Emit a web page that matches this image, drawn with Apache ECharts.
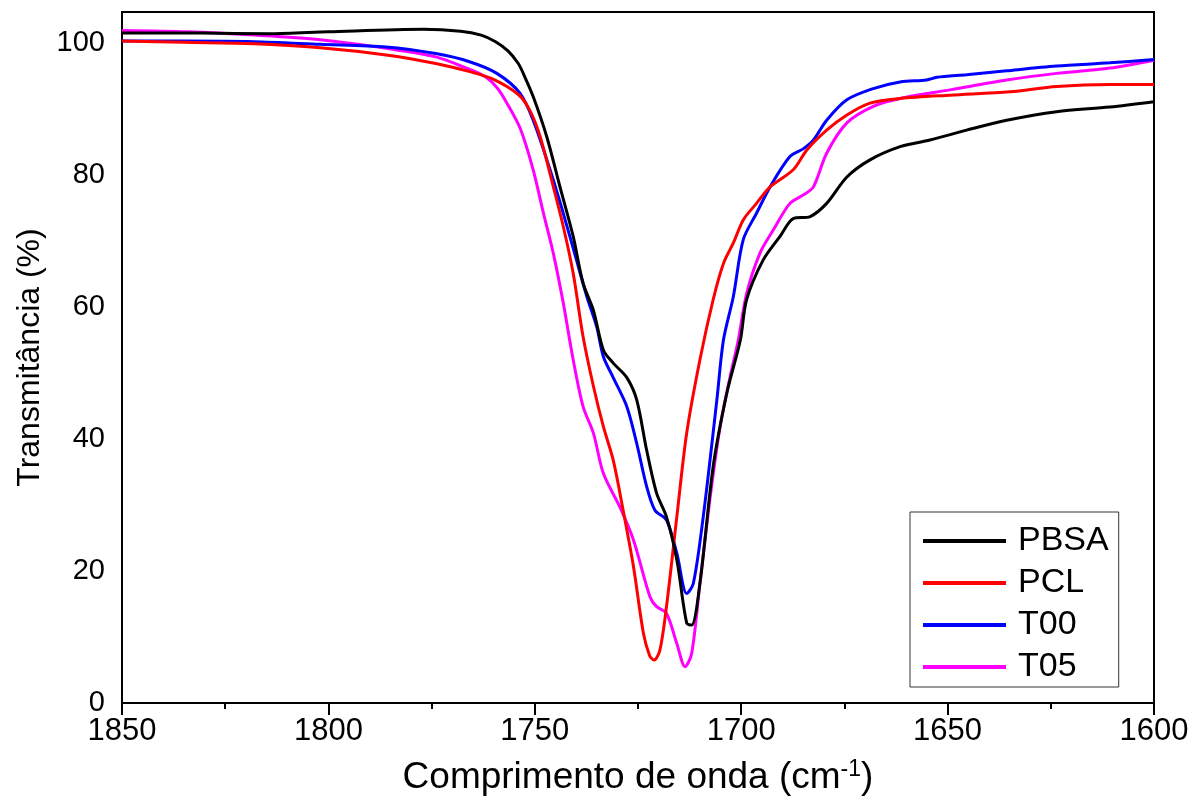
<!DOCTYPE html>
<html>
<head>
<meta charset="utf-8">
<script src="https://cdn.jsdelivr.net/npm/echarts@6/dist/echarts.min.js"></script>
<style>html,body{margin:0;padding:0;background:#fff}#c{width:1204px;height:804px}</style>
</head>
<body>
<div id="c"></div>
<script>
const seriesNames = ['PBSA', 'PCL', 'T00', 'T05'];
const seriesColors = ['#000000', '#ff0000', '#0000ff', '#ff00ff'];
const xTicks = [1600, 1650, 1700, 1750, 1800, 1850];
const yTicks = [0, 20, 40, 60, 80, 100];

const pbsaX = [1850,1831,1814,1800,1777,1768,1763,1759.5,1756.5,1754,1752.8,1750.4,1747.1,1743.9,1740.7,1738.3,1735.8,1733.4,1731.0,1727.7,1725.3,1722.9,1720.5,1718.1,1715.6,1713.2,1712.0,1710.0,1706.8,1703.5,1700.2,1698.7,1694.7,1690.6,1687.4,1683.3,1679.3,1674.4,1668.8,1661.5,1654.3,1645.4,1635.7,1623.6,1610.7,1600];
const pbsaY = [101.5,101.5,101.4,101.7,102.1,101.8,101.2,100.2,98.8,96.9,95.4,91.9,85.8,78.2,70.7,63.6,59.5,53.5,51.5,49.3,45.9,38.3,31.8,28.2,21.7,12.1,11.8,18.1,35.8,46.9,55.0,61.1,67.1,70.7,73.4,73.7,75.7,79.7,82.3,84.3,85.3,86.8,88.3,89.6,90.3,91.1];

const pclX = [1850,1835,1818,1802,1786,1774,1766,1760,1754,1751.2,1748.7,1745.5,1743.1,1740.7,1738.3,1735.8,1733.4,1731.0,1728.6,1726.1,1723.7,1722.2,1721.1,1719.7,1718.1,1715.6,1713.2,1710.0,1706.8,1704.3,1701.9,1699.5,1696.3,1693.0,1687.4,1684.1,1679.3,1674.4,1668.8,1661.5,1649.4,1634.9,1623.6,1610.7,1600];
const pclY = [100.3,100.1,99.9,99.3,98.2,96.9,95.7,94.5,92.2,89.8,85.8,78.2,72.2,65.1,55.5,48.0,41.9,36.8,29.2,20.7,10.6,7.2,6.5,8.0,14.6,28.2,40.9,52.0,61.1,66.6,69.7,73.2,75.7,78.2,80.8,83.8,86.8,89.1,90.9,91.6,92.1,92.6,93.4,93.7,93.7];

const t00X = [1850,1835,1818,1802,1786,1774,1766,1759.2,1753.6,1750.4,1746.3,1743.1,1739.9,1737.4,1735.0,1733.4,1731.0,1727.7,1725.3,1722.9,1720.9,1718.1,1715.6,1713.2,1711.6,1709.2,1705.9,1704.3,1701.9,1699.5,1696.3,1693.0,1688.2,1684.9,1682.5,1679.3,1674.4,1668.0,1661.5,1655.1,1652.6,1645.4,1635.7,1623.6,1610.7,1600];
const t00Y = [100.3,100.3,100.2,99.8,99.4,98.4,97.2,95.4,92.4,88.3,80.8,74.2,67.1,61.6,57.0,52.5,49.3,44.9,39.3,32.8,29.2,27.7,22.7,16.6,18.1,28.2,45.9,55.0,61.6,70.2,74.2,78.2,82.8,84.0,85.3,88.3,91.4,93.1,94.1,94.4,94.8,95.2,95.8,96.5,97.0,97.5];

const t05X = [1850,1834,1818,1802,1786,1774,1767,1762,1759,1756.5,1753.5,1750.4,1747.9,1745.5,1743.1,1740.7,1738.3,1735.8,1733.4,1729.4,1726.1,1722.1,1720.5,1718.1,1715.6,1713.6,1712.0,1710.0,1707.6,1705.1,1702.7,1700.7,1698.7,1695.5,1692.2,1688.2,1684.9,1682.5,1679.3,1674.4,1668.0,1661.5,1649.4,1635.7,1623.6,1610.7,1600];
const t05Y = [101.9,101.7,101.2,100.5,99.2,97.9,96.3,94.9,93.1,90.6,87.0,80.8,74.2,68.1,60.6,52.0,44.9,40.9,34.8,29.7,24.7,16.1,14.6,13.6,9.0,5.5,7.5,18.1,30.8,41.9,49.4,55.0,62.0,68.1,71.7,75.7,77.0,78.2,83.3,87.9,90.4,91.6,92.9,94.4,95.4,96.2,97.4];

const allX = [pbsaX, pclX, t00X, t05X];
const allY = [pbsaY, pclY, t00Y, t05Y];

const FONT = '"Liberation Sans", Arial, sans-serif';
const chart = echarts.init(document.getElementById('c'), null, {renderer: 'canvas'});

const series = seriesNames.map((name, i) => ({
  name: name,
  type: 'line',
  data: allX[i].map((x, k) => [x, allY[i][k]]),
  symbol: 'none',
  smooth: 0.3,
  lineStyle: {color: seriesColors[i], width: 3},
  itemStyle: {color: seriesColors[i]},
  z: 10 - i
}));

chart.setOption({
  animation: false,
  backgroundColor: '#ffffff',
  grid: {left: 122, right: 50, top: 12, bottom: 101, show: true, borderColor: '#000', borderWidth: 2, backgroundColor: 'transparent'},
  legend: {
    orient: 'vertical',
    left: 910, top: 512,
    icon: 'rect',
    itemWidth: 83, itemHeight: 4,
    itemGap: 8,
    padding: [12, 10, 3, 13],
    borderColor: '#333', borderWidth: 1,
    backgroundColor: '#fff',
    data: seriesNames,
    textStyle: {fontFamily: FONT, fontSize: 34, color: '#000', lineHeight: 34, padding: [0, 0, 0, 7]}
  },
  xAxis: {
    type: 'value',
    inverse: true,
    min: 1600, max: 1850, interval: 50,
    name: '{a|Comprimento de onda (cm}{s|-1}{a|)}',
    nameLocation: 'middle',
    nameGap: 55,
    nameTextStyle: {
      rich: {
        a: {fontFamily: FONT, fontSize: 37, color: '#000', lineHeight: 40},
        s: {fontFamily: FONT, fontSize: 23, color: '#000', verticalAlign: 'top', lineHeight: 40, padding: [0, 0, 14, 0]}
      }
    },
    axisLine: {show: true, onZero: false, lineStyle: {color: '#000', width: 2}},
    axisTick: {show: true, inside: false, length: 12, lineStyle: {color: '#000', width: 2}},
    minorTick: {show: true, splitNumber: 2, length: 6, lineStyle: {color: '#000', width: 2}},
    splitLine: {show: false},
    axisLabel: {fontFamily: FONT, fontSize: 31, color: '#000', margin: 13,
      formatter: v => xTicks.includes(v) ? String(v) : ''}
  },
  yAxis: {
    type: 'value',
    min: 0, max: 104.7, interval: 20,
    name: 'Transmitância (%)',
    nameLocation: 'middle',
    nameGap: 74,
    nameRotate: 90,
    nameTextStyle: {fontFamily: FONT, fontSize: 32, color: '#000'},
    axisLine: {show: true, onZero: false, lineStyle: {color: '#000', width: 2}},
    axisTick: {show: false},
    splitLine: {show: false},
    axisLabel: {fontFamily: FONT, fontSize: 29, color: '#000', margin: 17, showMaxLabel: false,
      formatter: v => yTicks.includes(v) ? String(v) : ''}
  },
  series: series
});
</script>
</body>
</html>
